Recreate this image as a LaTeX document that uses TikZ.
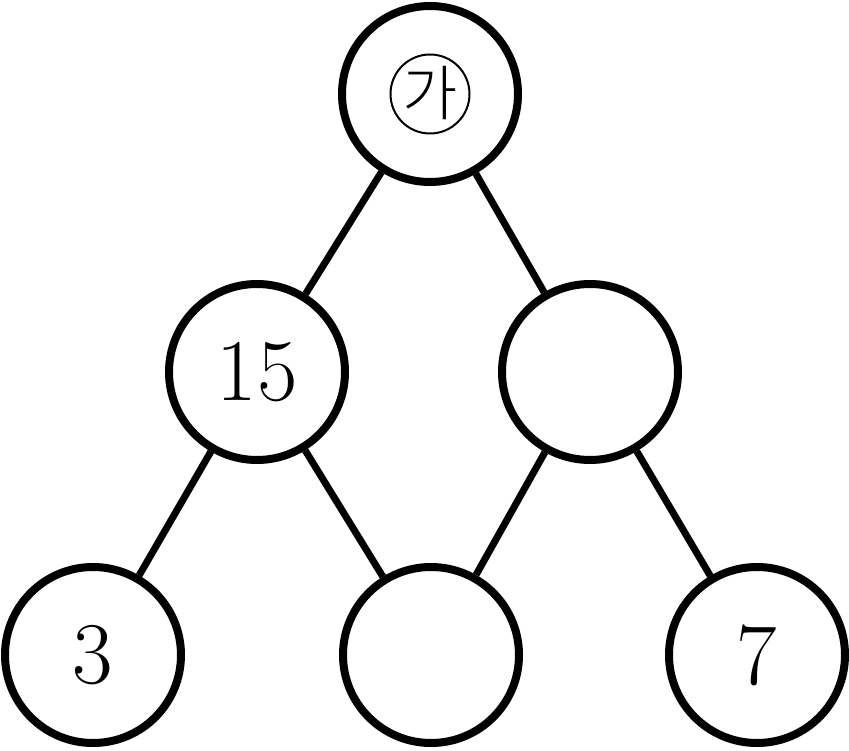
\documentclass[tikz,border=0pt]{standalone}
\usepackage{fontspec}
\newfontfamily\krfont{Noto Sans CJK KR Light}
\begin{document}
\begin{tikzpicture}[x=1pt,y=-1pt,
  nd/.style={circle,draw,line width=8pt,minimum size=176pt,inner sep=0pt,font=\fontsize{88}{88}\selectfont},
  edge/.style={line width=7pt}]
\useasboundingbox (0,0) rectangle (849,751);
\node[nd] (t) at (430,94) {};
\node[nd] (l) at (257,372) {15};
\node[nd] (r) at (590,372) {};
\node[nd] (a) at (93,655) {3};
\node[nd] (b) at (431,655) {};
\node[nd] (c) at (757,655) {7};
\node[circle,draw,line width=2pt,minimum size=79pt,inner sep=0pt] (g) at (t) {};
\node[inner sep=0pt,font=\krfont\fontsize{60}{60}\selectfont] (gt) at ([yshift=1pt]g.center) {가};
\draw[edge] (t) -- (l);
\draw[edge] (t) -- (r);
\draw[edge] (l) -- (a);
\draw[edge] (l) -- (b);
\draw[edge] (r) -- (b);
\draw[edge] (r) -- (c);
\end{tikzpicture}
\end{document}
